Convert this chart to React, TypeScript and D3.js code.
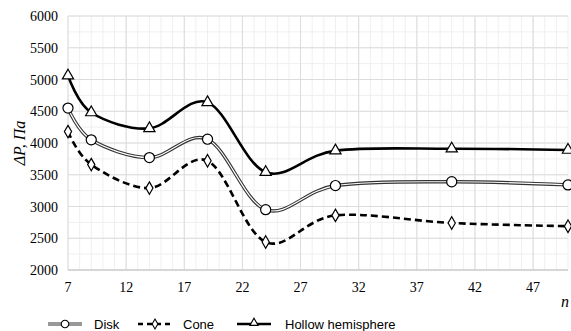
import React from "react";
import * as d3 from "d3";

const nValues = [7, 9, 14, 19, 24, 30, 40, 50];
const diskValues = [4550, 4050, 3770, 4060, 2950, 3330, 3390, 3340];
const coneValues = [4180, 3660, 3290, 3720, 2440, 2860, 2740, 2690];
const hollowValues = [5060, 4480, 4230, 4640, 3540, 3880, 3910, 3890];
const xTicks = [7, 12, 17, 22, 27, 32, 37, 42, 47];
const yTicks = [2000, 2500, 3000, 3500, 4000, 4500, 5000, 5500, 6000];
const legendNames = ["Disk", "Cone", "Hollow hemisphere"];

const SERIF = "Liberation Serif";
const SANS = "Liberation Sans";

const left = 68,
  right = 568,
  top = 16,
  bottom = 270;
const x = d3.scaleLinear().domain([7, 50]).range([left, right]);
const y = d3.scaleLinear().domain([2000, 6000]).range([bottom, top]);

const line = (vals: number[]) =>
  d3
    .line<number>()
    .x((_, i) => x(nValues[i]))
    .y((d) => y(d))
    .curve(d3.curveCatmullRom.alpha(0))(vals) || "";

const circle = d3.symbol().type(d3.symbolCircle).size(80)() || "";
const diamond = d3.symbol().type(d3.symbolDiamond).size(45)() || "";
const triangle = d3.symbol().type(d3.symbolTriangle).size(55)() || "";
const smallCircle = d3.symbol().type(d3.symbolCircle).size(45)() || "";
const smallDiamond = d3.symbol().type(d3.symbolDiamond).size(28)() || "";
const smallTriangle = d3.symbol().type(d3.symbolTriangle).size(30)() || "";

function Markers({ vals, d }: { vals: number[]; d: string }) {
  return (
    <g>
      {vals.map((v, i) => (
        <path
          key={i}
          d={d}
          transform={`translate(${x(nValues[i])},${y(v)})`}
          fill="#fff"
          stroke="#000"
          strokeWidth={1.2}
        />
      ))}
    </g>
  );
}

export default function App() {
  const ly = 324;
  const lw = 34;
  const items = [
    { x0: 48, tx: 94 },
    { x0: 138, tx: 183 },
    { x0: 237, tx: 285 },
  ];
  return (
    <svg
      width={571}
      height={331}
      style={{ position: "absolute", left: 0, top: 0, background: "#fff" }}
    >
      {/* minor grid */}
      {d3.range(7, 51, 1).map((d) => (
        <line key={"mx" + d} x1={x(d)} x2={x(d)} y1={top} y2={bottom} stroke="#efefef" />
      ))}
      {d3.range(2000, 6001, 250).map((d) => (
        <line key={"my" + d} x1={left} x2={right} y1={y(d)} y2={y(d)} stroke="#efefef" />
      ))}
      {/* major grid */}
      {xTicks.map((d) => (
        <line key={"Mx" + d} x1={x(d)} x2={x(d)} y1={top} y2={bottom} stroke="#dcdcdc" />
      ))}
      {yTicks.map((d) => (
        <line key={"My" + d} x1={left} x2={right} y1={y(d)} y2={y(d)} stroke="#dcdcdc" />
      ))}
      <line x1={left} x2={right} y1={bottom} y2={bottom} stroke="#cfcfcf" strokeWidth={1.5} />

      {yTicks.map((d) => (
        <text key={"yt" + d} x={left - 10} y={y(d) + 5} textAnchor="end" fontFamily={SERIF} fontSize={14}>
          {d}
        </text>
      ))}
      {xTicks.map((d) => (
        <text key={"xt" + d} x={x(d)} y={292} textAnchor="middle" fontFamily={SERIF} fontSize={14}>
          {d}
        </text>
      ))}
      <text x={565} y={307} textAnchor="middle" fontFamily={SERIF} fontStyle="italic" fontSize={16}>
        n
      </text>
      <text
        transform="translate(25,143) rotate(-90)"
        textAnchor="middle"
        fontFamily={SERIF}
        fontStyle="italic"
        fontSize={16}
      >
        ΔP, Па
      </text>

      {/* lines */}
      <path d={line(coneValues)} fill="none" stroke="#000" strokeWidth={2.6} strokeDasharray="7,4" />
      <path d={line(diskValues)} fill="none" stroke="#333" strokeWidth={3.4} />
      <path d={line(diskValues)} fill="none" stroke="#fff" strokeWidth={1.2} />
      <path d={line(hollowValues)} fill="none" stroke="#000" strokeWidth={2.6} />

      <Markers vals={coneValues} d={diamond} />
      <Markers vals={diskValues} d={circle} />
      <Markers vals={hollowValues} d={triangle} />

      {/* legend */}
      <line x1={items[0].x0} x2={items[0].x0 + lw} y1={ly} y2={ly} stroke="#333" strokeWidth={3} />
      <line x1={items[0].x0} x2={items[0].x0 + lw} y1={ly} y2={ly} stroke="#fff" strokeWidth={1} />
      <path d={smallCircle} transform={`translate(${items[0].x0 + lw / 2},${ly})`} fill="#fff" stroke="#000" strokeWidth={1.1} />
      <line x1={items[1].x0} x2={items[1].x0 + lw} y1={ly} y2={ly} stroke="#000" strokeWidth={2.4} strokeDasharray="5,4" />
      <path d={smallDiamond} transform={`translate(${items[1].x0 + lw / 2},${ly})`} fill="#fff" stroke="#000" strokeWidth={1.1} />
      <line x1={items[2].x0} x2={items[2].x0 + lw} y1={ly} y2={ly} stroke="#000" strokeWidth={2.4} />
      <path d={smallTriangle} transform={`translate(${items[2].x0 + lw / 2},${ly - 1})`} fill="#fff" stroke="#000" strokeWidth={1.1} />
      {legendNames.map((name, i) => (
        <text key={name} x={items[i].tx} y={ly + 4.5} fontFamily={SANS} fontSize={13}>
          {name}
        </text>
      ))}
    </svg>
  );
}
